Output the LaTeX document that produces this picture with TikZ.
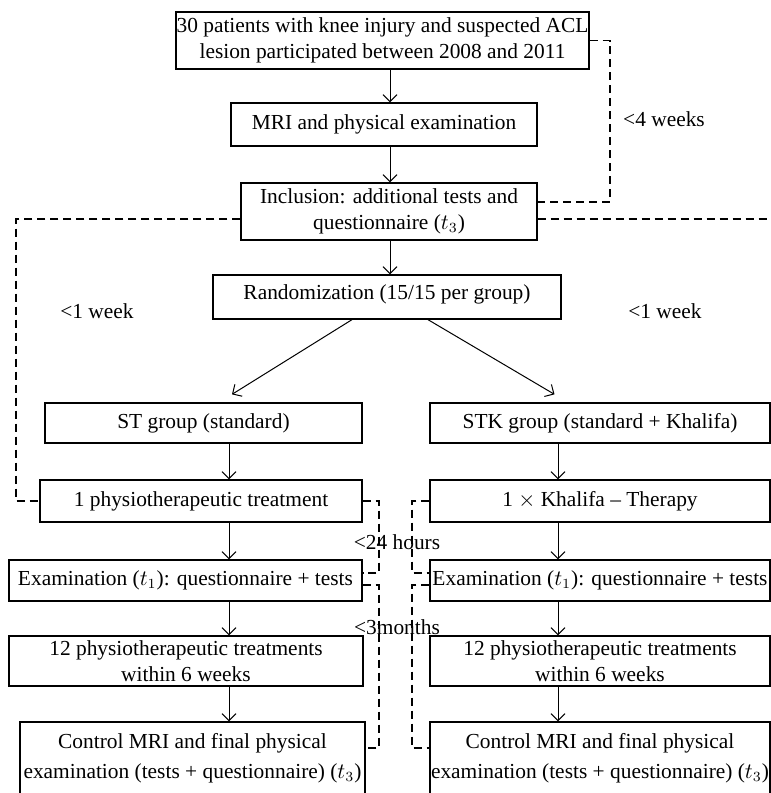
\documentclass[tikz,border=0pt]{standalone}
\usepackage{fontspec}
\setmainfont{Liberation Serif}
\usetikzlibrary{arrows.meta}

\begin{document}
\begin{tikzpicture}[x=0.5pt,y=-0.5pt,
        font=\fontsize{10.7}{13}\selectfont,
        box/.style={draw,line width=0.65pt,inner sep=0pt,align=center},
        arr/.style={-{Straight Barb[length=3.5pt,width=7pt]},line width=0.5pt},
        dashline/.style={line width=0.6pt,dash pattern=on 4pt off 2.5pt}]
        \useasboundingbox (0,0) rectangle (771,793);
        \clip (0,0) rectangle (771,793);
        \coordinate (cc) at (390,0);
        \coordinate (lc) at (229,0);
        \coordinate (rc) at (558,0);
        \node[box,minimum width=206.5pt,minimum height=28.5pt] (pat) at (382.5,40.5) {30 patients with knee injury and suspected ACL\\lesion participated between 2008 and 2011};
        \node[box,minimum width=153pt,minimum height=21.5pt] (mri) at (384,124.5) {MRI and physical examination};
        \node[box,minimum width=148pt,minimum height=28.5pt] (incl) at (389,211.5) {Inclusion: additional tests and\\questionnaire ($t_3$)};
        \node[box,minimum width=174pt,minimum height=22pt,text depth=5pt] (rand) at (387,297) {Randomization (15/15 per group)};
        \node[box,minimum width=158.5pt,minimum height=20pt] (st) at (203.5,423) {ST group (standard)};
        \node[box,minimum width=170pt,minimum height=20pt] (stk) at (600,423) {STK group (standard + Khalifa)};
        \node[box,minimum width=161pt,minimum height=21pt] (phys1) at (201,501) {1 physiotherapeutic treatment};
        \node[box,minimum width=170pt,minimum height=21pt] (khal) at (600,501) {1 $\times$ Khalifa -- Therapy};
        \node[box,minimum width=176.5pt,minimum height=20.5pt] (exl) at (185.5,580.5) {Examination ($t_1$): questionnaire + tests};
        \node[box,minimum width=170pt,minimum height=20.5pt] (exr) at (600,580.5) {Examination ($t_1$): questionnaire + tests};
        \node[box,minimum width=177pt,minimum height=25pt] (twl) at (186,661) {12 physiotherapeutic treatments\\within 6 weeks};
        \node[box,minimum width=170pt,minimum height=25pt] (twr) at (600,661) {12 physiotherapeutic treatments\\within 6 weeks};
        \node[box,font=\fontsize{10.7}{15}\selectfont,minimum width=172.5pt,minimum height=36pt] (ctl) at (192.5,758) {Control MRI and final physical\\examination (tests + questionnaire) ($t_3$)};
        \node[box,font=\fontsize{10.7}{15}\selectfont,minimum width=170pt,minimum height=36pt] (ctr) at (600,758) {Control MRI and final physical\\examination (tests + questionnaire) ($t_3$)};

        \draw[arr] (pat.south -| cc) -- (mri.north -| cc);
        \draw[arr] (mri.south -| cc) -- (incl.north -| cc);
        \draw[arr] (incl.south -| cc) -- (rand.north -| cc);
        \draw[arr] ([xshift=-17.5pt]rand.south) -- ([xshift=14.25pt,yshift=4pt]st.north);
        \draw[arr] ([xshift=20.5pt]rand.south) -- ([xshift=-22.75pt,yshift=4pt]stk.north);
        \foreach \a/\b in {st/phys1,phys1/exl,exl/twl,twl/ctl}
            \draw[arr] (\a.south -| lc) -- (\b.north -| lc);
        \foreach \a/\b in {stk/khal,khal/exr,exr/twr,twr/ctr}
            \draw[arr] (\a.south -| rc) -- (\b.north -| rc);

        \draw[dashline] (pat.east) -| (610,120) |- ([yshift=4.75pt]incl.east);
        \draw[dashline] ([yshift=-3.75pt]incl.west) -| (16,400) |- (phys1.west);
        \draw[dashline] ([yshift=-3.75pt]incl.east) -| (778,400) |- (khal.east);
        \draw[dashline] (phys1.east) -| (379,540) |- ([yshift=3.75pt]exl.east);
        \draw[dashline] (khal.west) -| (412,540) |- ([yshift=3.75pt]exr.west);
        \draw[dashline] ([yshift=-2.25pt]exl.east) -| (379,700) |- ([yshift=5pt]ctl.east);
        \draw[dashline] ([yshift=-2.25pt]exr.west) -| (412,700) |- ([yshift=5pt]ctr.west);

        \node (w4) at (664,119) {<4 weeks};
        \node (w1l) at (97,311) {<1 week};
        \node (w1r) at (665,311) {<1 week};
        \node (h24) at (397,542) {<24 hours};
        \node (m3) at (397,627) {<3months};
    \end{tikzpicture}
\end{document}
